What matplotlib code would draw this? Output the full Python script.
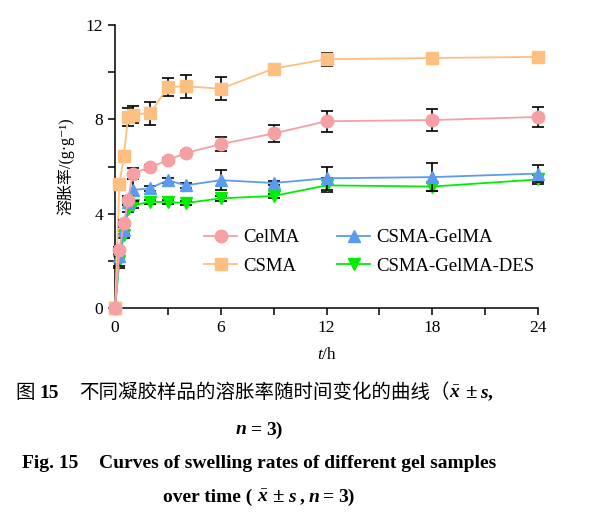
import matplotlib
matplotlib.use("Agg")
import matplotlib.pyplot as plt
from matplotlib.ticker import MultipleLocator

# time points, h
times = [0, 0.25, 0.5, 0.75, 1, 2, 3, 4, 6, 9, 12, 18, 24]

celma = [0, 2.45, 3.6, 4.6, 5.7, 5.97, 6.27, 6.57, 6.95, 7.4, 7.92, 7.97, 8.1]
celma_sd = [0, 0.15, 0.15, 0.15, 0.25, 0.1, 0.1, 0.1, 0.28, 0.38, 0.44, 0.48, 0.42]

csma = [0, 5.25, 6.45, 8.1, 8.2, 8.26, 9.37, 9.4, 9.3, 10.15, 10.55, 10.6, 10.65]
csma_sd = [0, 0.15, 0.15, 0.4, 0.36, 0.48, 0.38, 0.48, 0.5, 0.12, 0.27, 0.1, 0.1]

gelma = [0, 2.2, 3.3, 4.5, 5.0, 5.08, 5.42, 5.2, 5.42, 5.3, 5.5, 5.55, 5.7]
gelma_sd = [0, 0.4, 0.15, 0.15, 0.45, 0.1, 0.1, 0.1, 0.42, 0.1, 0.48, 0.6, 0.35]

des = [0, 2.0, 3.1, 4.2, 4.35, 4.5, 4.5, 4.45, 4.65, 4.75, 5.2, 5.15, 5.45]
des_sd = [0, 0.3, 0.15, 0.15, 0.1, 0.1, 0.1, 0.1, 0.1, 0.1, 0.3, 0.2, 0.2]

series_names = ["CelMA", "CSMA", "CSMA-GelMA", "CSMA-GelMA-DES"]

plt.rcParams["font.family"] = ["Liberation Serif", "Noto Sans CJK SC", "DejaVu Serif"]
plt.rcParams["mathtext.fontset"] = "custom"
plt.rcParams["mathtext.rm"] = "Liberation Serif"
plt.rcParams["mathtext.it"] = "Liberation Serif:italic:bold"

SERIF = ["Liberation Serif", "Noto Sans CJK SC", "DejaVu Serif"]
CJK = ["Noto Sans CJK SC", "Liberation Serif"]


def rich_line(fig, cx, y, parts, **common):
    """Кладёт куски текста подряд в одну строку, центрируя по cx (в долях фигуры)."""
    renderer = fig.canvas.get_renderer()
    items = []
    total = 0.0
    for p in parts:
        if isinstance(p, (int, float)):
            items.append((None, p))
            total += p
            continue
        s, kw = p
        kw = {**common, **kw}
        t = fig.text(0, y, s, ha="left", va="center", **kw)
        w = t.get_window_extent(renderer).width
        items.append((t, w))
        total += w
    W = fig.bbox.width
    x = cx * W - total / 2
    for t, w in items:
        if t is not None:
            t.set_x(x / W)
        x += w


fig = plt.figure(figsize=(6.05, 5.14), dpi=100)
ax = fig.add_axes([115 / 605, 1 - 308 / 514, 423 / 605, 283 / 514])

# порядок отрисовки: зелёные снизу, розовые сверху
styles = [
    (des, des_sd, "#00ee00", "v", series_names[3], 2),
    (gelma, gelma_sd, "#5b9bef", "^", series_names[2], 3),
    (csma, csma_sd, "#fdc080", "s", series_names[1], 4),
    (celma, celma_sd, "#f5a0a2", "o", series_names[0], 5),
]

handles = {}
for vals, sd, color, marker, name, z in styles:
    ax.errorbar(times, vals, yerr=sd, fmt="none", ecolor="black",
                elinewidth=1.2, capsize=4.5, capthick=1.2, zorder=z,
                clip_on=False)
    ln, = ax.plot(times, vals, color=color, marker=marker, markersize=9,
                  linewidth=1.3, zorder=z + 0.5, clip_on=False, label=name)
    handles[name] = ln

ax.set_xlim(0, 24)
ax.set_ylim(0, 12)
ax.xaxis.set_major_locator(MultipleLocator(6))
ax.xaxis.set_minor_locator(MultipleLocator(3))
ax.yaxis.set_major_locator(MultipleLocator(4))
ax.yaxis.set_minor_locator(MultipleLocator(2))
ax.tick_params(which="both", direction="out", length=5, width=1.1,
               labelsize=12.5)
ax.tick_params(axis="x", pad=4)
for side in ["top", "right"]:
    ax.spines[side].set_visible(False)
for side in ["left", "bottom"]:
    ax.spines[side].set_linewidth(1.1)

ax.set_ylabel("溶胀率/(g·g⁻¹)", fontsize=11.5, labelpad=8, family=SERIF)

leg = ax.legend([handles[n] for n in series_names], series_names,
                ncol=2, loc="upper left", bbox_to_anchor=(0.193, 0.305),
                frameon=False, fontsize=13.5, handlelength=1.75,
                columnspacing=2.0, labelspacing=0.6, handletextpad=0.35,
                borderaxespad=0)

# подпись оси x: t курсивом
rich_line(fig, 0.5 * (115 + 538) / 605, 1 - 355 / 514,
          [("t", dict(family=SERIF, style="italic")),
           ("/h", dict(family=SERIF))], fontsize=12.5)

# подпись рисунка
rich_line(fig, 254 / 605, 1 - 393 / 514,
          [("图", dict(family=CJK)), 5,
           ("15", dict(family=SERIF, weight="bold")), 20,
           ("不同凝胶样品的溶胀率随时间变化的曲线（", dict(family=CJK)),
           (r"$\bar{x}$", dict(family=SERIF, weight="bold")), 4,
           ("±", dict(family=SERIF, weight="bold", fontsize=15)), 4,
           ("s", dict(family=SERIF, weight="bold", style="italic")),
           (",", dict(family=SERIF, weight="bold"))],
          fontsize=14)
cx = 259 / 605
rich_line(fig, cx, 1 - 430 / 514,
          [("n", dict(family=SERIF, weight="bold", style="italic")), 4,
           ("=", dict(family=SERIF, weight="bold")), 4,
           ("3)", dict(family=SERIF, weight="bold"))],
          fontsize=14)
rich_line(fig, cx, 1 - 464 / 514,
          [("Fig. 15", dict(family=SERIF, weight="bold")), 20,
           ("Curves of swelling rates of different gel samples",
            dict(family=SERIF, weight="bold"))],
          fontsize=14)
rich_line(fig, cx, 1 - 497 / 514,
          [("over time (", dict(family=SERIF, weight="bold")), 4,
           (r"$\bar{x}$", dict(family=SERIF, weight="bold")), 4,
           ("±", dict(family=SERIF, weight="bold", fontsize=15)), 4,
           ("s", dict(family=SERIF, weight="bold", style="italic")), 4,
           (",", dict(family=SERIF, weight="bold")), 4,
           ("n", dict(family=SERIF, weight="bold", style="italic")), 4,
           ("=", dict(family=SERIF, weight="bold")), 4,
           ("3)", dict(family=SERIF, weight="bold"))],
          fontsize=14)

fig.savefig("out.png", dpi=100)
plt.close(fig)
